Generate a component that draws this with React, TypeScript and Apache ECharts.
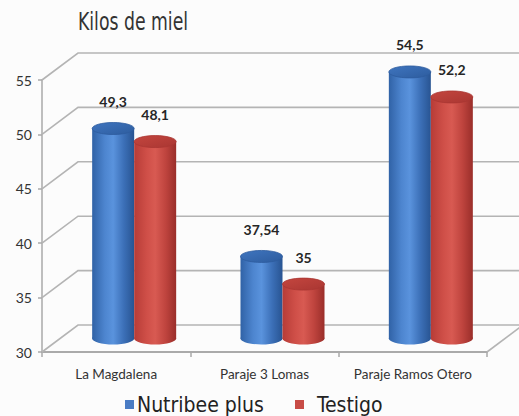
import React, { useEffect, useRef } from "react";
import * as echarts from "echarts";

const categories = ["La Magdalena", "Paraje 3 Lomas", "Paraje Ramos Otero"];
const nutribee = [49.3, 37.54, 54.5];
const testigo = [48.1, 35, 52.2];
const yTicks = [30, 35, 40, 45, 50, 55];
const seriesNames = ["Nutribee plus", "Testigo"];
const titleText = "Kilos de miel";

const DX = 36;
const DY = 27;
const BAR_W = 42;
const RY = 6;

const NARROW = "'Liberation Sans Narrow', 'DejaVu Sans Condensed', sans-serif";
const BODY = "Lato, 'Open Sans', sans-serif";

const palettes = {
  blue: {
    legend: "#4a7cc4",
    body: ["#3062a6", "#4d85cf", "#5a93dd", "#3c70b8", "#285492"],
    top: ["#2d5c9e", "#3f75bf"],
  },
  red: {
    legend: "#c84c46",
    body: ["#b73c37", "#cf4f48", "#d85a52", "#bf443e", "#9a2e2a"],
    top: ["#a93632", "#c4463f"],
  },
};

function fmt(v: number) {
  return String(v).replace(".", ",");
}

function makeBarRender(side: number, pal: any) {
  return (params: any, api: any) => {
    const cat = api.value(0);
    const val = api.value(1);
    const top = api.coord([cat, val]);
    const bot = api.coord([cat, yTicks[0]]);
    const cx = top[0] + DX / 2 + side * (BAR_W / 2);
    const ty = top[1] - DY / 2;
    const by = bot[1] - DY / 2;
    const bodyGrad = new echarts.graphic.LinearGradient(0, 0, 1, 0, [
      { offset: 0, color: pal.body[0] },
      { offset: 0.3, color: pal.body[1] },
      { offset: 0.5, color: pal.body[2] },
      { offset: 0.75, color: pal.body[3] },
      { offset: 1, color: pal.body[4] },
    ]);
    const topGrad = new echarts.graphic.LinearGradient(0, 0, 1, 1, [
      { offset: 0, color: pal.top[1] },
      { offset: 1, color: pal.top[0] },
    ]);
    return {
      type: "group",
      children: [
        {
          type: "ellipse",
          shape: { cx, cy: by, rx: BAR_W / 2, ry: RY },
          style: { fill: bodyGrad },
        },
        {
          type: "rect",
          shape: { x: cx - BAR_W / 2, y: ty, width: BAR_W, height: by - ty },
          style: { fill: bodyGrad },
        },
        {
          type: "ellipse",
          shape: { cx, cy: ty, rx: BAR_W / 2, ry: RY },
          style: { fill: topGrad, stroke: pal.top[0], lineWidth: 0.8 },
        },
        {
          type: "text",
          style: {
            text: fmt(val),
            x: cx,
            y: ty - 27,
            align: "center",
            verticalAlign: "middle",
            fontFamily: BODY,
            fontWeight: "bold",
            fontSize: 14,
            fill: "#262626",
          },
        },
      ],
    };
  };
}

function wallRender(params: any, api: any) {
  const v = api.value(1);
  const p = api.coord([0, v]);
  const cs = params.coordSys;
  const x0 = cs.x;
  const y = p[1];
  const children: any[] = [
    {
      type: "polyline",
      shape: {
        points: [
          [x0, y],
          [x0 + DX, y - DY],
          [api.getWidth() + 10, y - DY],
        ],
      },
      style: { stroke: "#b4b4b4", lineWidth: 1.6, fill: null },
    },
  ];
  if (v === yTicks[0]) {
    children.push({
      type: "line",
      shape: { x1: x0 + cs.width, y1: y, x2: x0 + cs.width + DX, y2: y - DY },
      style: { stroke: "#b4b4b4", lineWidth: 1.6 },
    });
  }
  return { type: "group", children };
}

export default function App() {
  const ref = useRef<HTMLDivElement>(null);
  useEffect(() => {
    if (!ref.current) return;
    const chart = echarts.init(ref.current, null, { renderer: "svg" });
    const legendText = { fontFamily: NARROW, fontSize: 21, color: "#222222" };
    chart.setOption({
      animation: false,
      backgroundColor: "#fcfcfc",
      graphic: [
        {
          type: "text",
          left: 78,
          top: 10,
          scaleX: 0.8,
          style: {
            text: titleText,
            fontFamily: NARROW,
            fontSize: 24,
            fill: "#333333",
          },
        },
      ],
      legend: [
        {
          data: [seriesNames[0]],
          left: 120,
          top: 389,
          itemWidth: 9,
          itemHeight: 9,
          icon: "rect",
          textStyle: { ...legendText, padding: [0, 0, 0, -2] },
        },
        {
          data: [seriesNames[1]],
          left: 290,
          top: 389,
          itemWidth: 9,
          itemHeight: 9,
          icon: "rect",
          textStyle: { ...legendText, padding: [0, 0, 0, 8] },
        },
      ],
      grid: { left: 42, right: 32, top: 80, bottom: 64 },
      xAxis: {
        type: "category",
        data: categories,
        axisLine: { show: true, lineStyle: { color: "#aaaaaa", width: 2 } },
        axisTick: { show: true, length: 5, lineStyle: { color: "#aaaaaa", width: 1.5 } },
        axisLabel: {
          interval: 0,
          hideOverlap: false,
          margin: 15,
          fontFamily: BODY,
          fontSize: 13.5,
          color: "#333333",
        },
      },
      yAxis: {
        type: "value",
        min: 30,
        max: 55,
        interval: 5,
        axisLine: { show: true, lineStyle: { color: "#aaaaaa", width: 1.5 } },
        axisTick: { show: true, length: 4, lineStyle: { color: "#aaaaaa", width: 1.5 } },
        splitLine: { show: false },
        axisLabel: {
          margin: 10,
          fontFamily: BODY,
          fontSize: 14,
          color: "#333333",
        },
      },
      series: [
        {
          type: "custom",
          name: "wall",
          silent: true,
          z: 1,
          data: yTicks.map((v) => [0, v]),
          encode: { x: 0, y: 1 },
          renderItem: wallRender,
        },
        {
          type: "custom",
          name: seriesNames[0],
          z: 3,
          itemStyle: { color: palettes.blue.legend },
          data: nutribee.map((v, i) => [i, v]),
          encode: { x: 0, y: 1 },
          renderItem: makeBarRender(-1, palettes.blue),
        },
        {
          type: "custom",
          name: seriesNames[1],
          z: 4,
          itemStyle: { color: palettes.red.legend },
          data: testigo.map((v, i) => [i, v]),
          encode: { x: 0, y: 1 },
          renderItem: makeBarRender(1, palettes.red),
        },
      ],
    });
    return () => chart.dispose();
  }, []);
  return (
    <div
      ref={ref}
      style={{ position: "absolute", left: 0, top: 0, width: 519, height: 416 }}
    />
  );
}
